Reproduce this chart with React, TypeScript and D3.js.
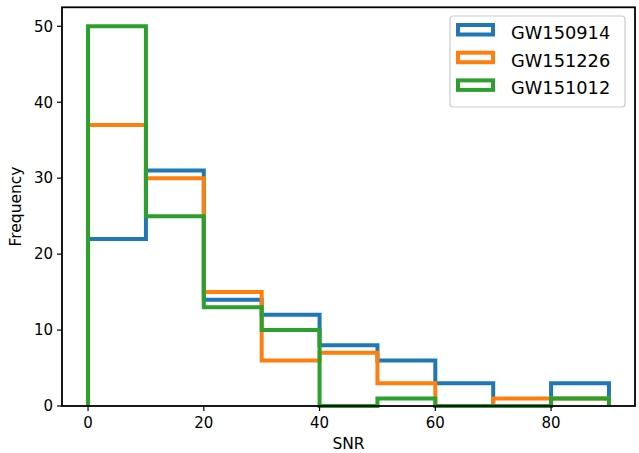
import React from "react";
import * as d3 from "d3";

const binEdges = [0, 10, 20, 30, 40, 50, 60, 70, 80, 90];
const seriesNames = ["GW150914", "GW151226", "GW151012"];
const gw150914 = [22, 31, 14, 12, 8, 6, 3, 0, 3];
const gw151226 = [37, 30, 15, 6, 7, 3, 0, 1, 1];
const gw151012 = [50, 25, 13, 10, 0, 1, 0, 0, 1];
const seriesColors = ["#1f77b4", "#ff7f0e", "#2ca02c"];
const xTicks = [0, 20, 40, 60, 80];
const yTicks = [0, 10, 20, 30, 40, 50];

const W = 639;
const H = 453;

export default function App() {
  const x = d3.scaleLinear().domain([-4.5, 94.5]).range([62, 635]);
  const y = d3.scaleLinear().domain([0, 52.5]).range([406, 7.3]);
  const allSeries = [gw150914, gw151226, gw151012];

  const stepPath = (vals: number[]) => {
    const pts: [number, number][] = [[binEdges[0], 0]];
    vals.forEach((v, i) => {
      pts.push([binEdges[i], v]);
      pts.push([binEdges[i + 1], v]);
    });
    pts.push([binEdges[binEdges.length - 1], 0]);
    return d3
      .line<[number, number]>()
      .x((d) => x(d[0]))
      .y((d) => y(d[1]))(pts) as string;
  };

  const font = "DejaVu Sans, sans-serif";
  const legX = 450;
  const legY = 16;
  const rowH = 27.7;

  return (
    <svg
      width={W}
      height={H}
      style={{ position: "absolute", left: 0, top: 0, background: "#fff" }}
      fontFamily={font}
    >
      <rect x={0} y={0} width={W} height={H} fill="#fff" />
      {allSeries.map((vals, i) => (
        <path
          key={i}
          d={stepPath(vals)}
          fill="none"
          stroke={seriesColors[i]}
          strokeWidth={4}
          strokeLinejoin="miter"
        />
      ))}
      <rect
        x={x.range()[0]}
        y={y.range()[1]}
        width={x.range()[1] - x.range()[0]}
        height={y.range()[0] - y.range()[1]}
        fill="none"
        stroke="#000"
        strokeWidth={1.8}
      />
      {xTicks.map((t) => (
        <g key={"x" + t}>
          <line x1={x(t)} x2={x(t)} y1={406} y2={411} stroke="#000" strokeWidth={1.2} />
          <text x={x(t)} y={428} textAnchor="middle" fontSize={15} fill="#000">
            {t}
          </text>
        </g>
      ))}
      {yTicks.map((t) => (
        <g key={"y" + t}>
          <line x1={62} x2={57} y1={y(t)} y2={y(t)} stroke="#000" strokeWidth={1.2} />
          <text x={53} y={y(t) + 5.3} textAnchor="end" fontSize={15} fill="#000">
            {t}
          </text>
        </g>
      ))}
      <text x={348.5} y={449} textAnchor="middle" fontSize={15.5} fill="#000">
        SNR
      </text>
      <text
        transform={`translate(21,${(7 + 406) / 2}) rotate(-90)`}
        textAnchor="middle"
        fontSize={15.5}
        fill="#000"
      >
        Frequency
      </text>
      <rect
        x={legX}
        y={legY}
        width={175}
        height={91}
        rx={3}
        fill="#fff"
        fillOpacity={0.8}
        stroke="#cccccc"
        strokeWidth={1.2}
      />
      {seriesNames.map((name, i) => (
        <g key={name}>
          <rect
            x={458}
            y={25 + i * rowH}
            width={35}
            height={9.5}
            fill="none"
            stroke={seriesColors[i]}
            strokeWidth={4}
          />
          <text x={511} y={39 + i * rowH} fontSize={17.8} fill="#000">
            {name}
          </text>
        </g>
      ))}
    </svg>
  );
}
